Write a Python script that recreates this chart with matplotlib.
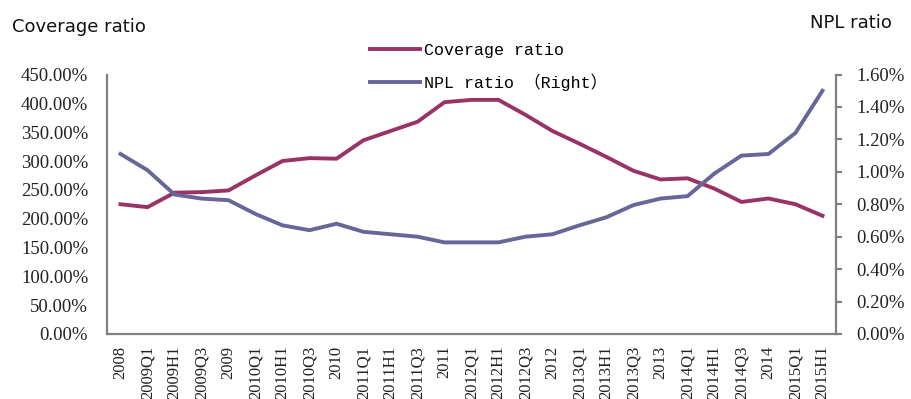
import matplotlib
matplotlib.use("Agg")
import matplotlib.pyplot as plt

# periods on the x axis
periods = ["2008", "2009Q1", "2009H1", "2009Q3", "2009", "2010Q1", "2010H1", "2010Q3", "2010",
           "2011Q1", "2011H1", "2011Q3", "2011", "2012Q1", "2012H1", "2012Q3", "2012",
           "2013Q1", "2013H1", "2013Q3", "2013", "2014Q1", "2014H1", "2014Q3", "2014",
           "2015Q1", "2015H1"]

# coverage ratio, % (left axis)
coverage = [225, 220, 245, 246, 249, 275, 300, 305, 304,
            336, 352, 368, 402, 406, 406, 380, 352,
            330, 307, 283, 268, 270, 252, 229, 235,
            225, 205]

# NPL ratio, % (right axis)
npl = [1.11, 1.01, 0.86, 0.835, 0.825, 0.74, 0.67, 0.64, 0.68,
       0.63, 0.615, 0.60, 0.565, 0.565, 0.565, 0.60, 0.615,
       0.67, 0.72, 0.795, 0.835, 0.85, 0.99, 1.10, 1.11,
       1.24, 1.50]

left_ticks = [0, 50, 100, 150, 200, 250, 300, 350, 400, 450]
right_ticks = [0, 0.2, 0.4, 0.6, 0.8, 1.0, 1.2, 1.4, 1.6]

COV_COLOR = "#993366"
NPL_COLOR = "#666699"
SPINE = "#808080"
TXT = "#222222"
MONO = ["Liberation Mono", "Noto Sans CJK SC"]
SERIF = "Liberation Serif"

fig = plt.figure(figsize=(9.12, 3.99), dpi=100)
ax = fig.add_axes([107 / 912, 65 / 399, 729 / 912, 259.5 / 399])
ax2 = ax.twinx()

x = list(range(len(periods)))
l1, = ax.plot(x, coverage, color=COV_COLOR, lw=2.8, label="Coverage ratio", solid_joinstyle="miter")
l2, = ax2.plot(x, npl, color=NPL_COLOR, lw=2.8, label="NPL ratio （Right）", solid_joinstyle="miter")

ax.set_xlim(-0.5, len(periods) - 0.5)
ax.set_ylim(0, 450)
ax2.set_ylim(0, 1.6)

for a in (ax, ax2):
    for s in a.spines.values():
        s.set_visible(False)
ax.spines["left"].set_visible(True)
ax.spines["bottom"].set_visible(True)
ax2.spines["right"].set_visible(True)
for s in (ax.spines["left"], ax.spines["bottom"], ax2.spines["right"]):
    s.set_color(SPINE)
    s.set_linewidth(1.6)

ax.set_yticks(left_ticks)
ax.set_yticklabels([f"{v:.2f}%" for v in left_ticks], family=SERIF, fontsize=13.5, color=TXT)
ax.tick_params(axis="y", length=0, pad=13.5)

ax2.set_yticks(right_ticks)
ax2.set_yticklabels([f"{v:.2f}%" for v in right_ticks], family=SERIF, fontsize=13.5, color=TXT)
ax2.tick_params(axis="y", length=4.5, width=1.6, color=SPINE, pad=10)

ax.set_xticks(x)
ax.set_xticklabels(periods, rotation=90, ha="center", va="top",
                   family=SERIF, fontsize=12, color=TXT)
ax.tick_params(axis="x", length=0, pad=8.5)

fig.text(12 / 912, (399 - 32) / 399, "Coverage ratio", fontsize=13, family="DejaVu Sans",
         color="#111111", va="baseline", ha="left")
fig.text(810 / 912, (399 - 28) / 399, "NPL ratio", fontsize=13, family="DejaVu Sans",
         color="#111111", va="baseline", ha="left")

fig.legend(handles=[l1, l2], loc="upper left", bbox_to_anchor=(370 / 912, (399 - 43) / 399),
           frameon=False, borderpad=0, borderaxespad=0, handlelength=3.0, handletextpad=0.25,
           labelspacing=0.95, prop={"family": MONO, "size": 12})

fig.savefig("out.png", dpi=100)
